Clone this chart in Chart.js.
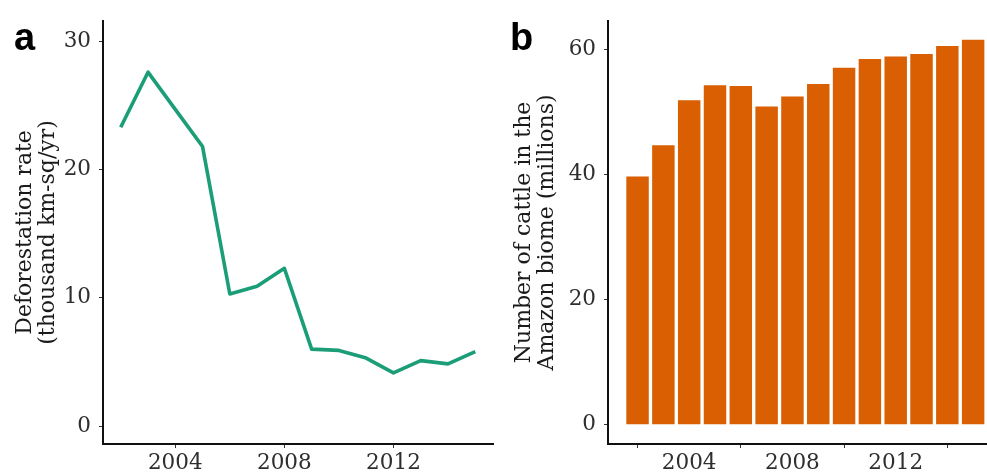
<!DOCTYPE html>
<html lang="en">
<head>
  <meta charset="UTF-8" />
  <title>Deforestation and cattle in the Amazon</title>
  <script src="https://cdn.jsdelivr.net/npm/chart.js"></script>
  <style>
    body {
      margin: 0;
      width: 987px;
      height: 475px;
      overflow: hidden;
      background: #fff;
      position: relative;
    }
    .panel {
      position: absolute;
      top: 0;
    }
    .tag {
      position: absolute;
      font-family: "Liberation Sans", Arial, sans-serif;
      font-weight: bold;
      font-size: 38px;
      line-height: 38px;
      color: #000;
    }
  </style>
</head>
<body>
  <div class="panel" style="left:0"><canvas id="chartA" width="495" height="475"></canvas></div>
  <div class="panel" style="left:495px"><canvas id="chartB" width="520" height="475"></canvas></div>
  <div class="tag" style="left:14px; top:18px">a</div>
  <div class="tag" style="left:510px; top:18px">b</div>

  <script>
    const years = [2002, 2003, 2004, 2005, 2006, 2007, 2008, 2009, 2010, 2011, 2012, 2013, 2014, 2015];
    const deforestation = [23.3, 27.6, 24.7, 21.8, 10.3, 10.9, 12.3, 6.0, 5.9, 5.3, 4.15, 5.1, 4.85, 5.8];
    const cattle = [39.7, 44.7, 51.9, 54.3, 54.2, 50.9, 52.5, 54.5, 57.1, 58.5, 58.9, 59.3, 60.6, 61.6];
    const yearTicks = [2004, 2008, 2012];
    const deforTicks = [0, 10, 20, 30];
    const cattleTicks = [0, 20, 40, 60];

    const serif = '"DejaVu Serif", serif';
    const tickFont = { family: serif, size: 21.5 };
    const tickColor = '#2e2e2e';

    function axisStyle(tickList, extra) {
      return Object.assign({
        type: 'linear',
        afterBuildTicks: s => { s.ticks = tickList.map(v => ({ value: v })); },
        grid: { display: true, drawOnChartArea: false, drawTicks: true, tickLength: 4, color: '#333', lineWidth: 1 },
        border: { display: true, color: '#111', width: 2 },
        ticks: { color: tickColor, font: tickFont, padding: 3, maxRotation: 0, autoSkip: false, callback: v => String(v) }
      }, extra);
    }

    function yTitle(lines, pad) {
      return {
        display: true,
        text: lines,
        color: '#1a1a1a',
        font: { family: serif, size: 22, lineHeight: 1.05 },
        padding: { top: pad, bottom: 0 }
      };
    }

    new Chart(document.getElementById('chartA'), {
      type: 'line',
      data: {
        datasets: [{
          data: years.map((yr, i) => ({ x: yr, y: deforestation[i] })),
          borderColor: '#1b9e77',
          borderWidth: 3.6,
          borderJoinStyle: 'round',
          pointRadius: 0,
          tension: 0,
          fill: false
        }]
      },
      options: {
        responsive: false,
        animation: false,
        layout: { padding: { left: 0, top: 15, right: 2, bottom: 0 } },
        plugins: { legend: { display: false }, tooltip: { enabled: false } },
        scales: {
          x: axisStyle(yearTicks, { min: 2001.35, max: 2015.65, afterFit: s => { s.height = 31; } }),
          y: axisStyle(deforTicks, {
            min: -1.4, max: 31.6,
            afterFit: s => { s.width = 103; },
            title: yTitle(['Deforestation rate', '(thousand km-sq/yr)'], 14),
            ticks: { color: tickColor, font: tickFont, padding: 8, callback: v => String(v) }
          })
        }
      }
    });

    new Chart(document.getElementById('chartB'), {
      type: 'bar',
      data: {
        datasets: [{
          data: years.map((yr, i) => ({ x: yr, y: cattle[i] })),
          backgroundColor: '#d95f02',
          borderWidth: 0,
          categoryPercentage: 1,
          barPercentage: 0.87
        }]
      },
      options: {
        responsive: false,
        animation: false,
        layout: { padding: { left: 0, top: 15, right: 12.3, bottom: 0 } },
        plugins: { legend: { display: false }, tooltip: { enabled: false } },
        scales: {
          x: axisStyle(yearTicks, { min: 2000.855, max: 2016.145, offset: false, afterFit: s => { s.height = 31; } }),
          y: axisStyle(cattleTicks, {
            min: -3.08, max: 64.6,
            beginAtZero: false,
            afterFit: s => { s.width = 113; },
            title: yTitle(['Number of cattle in the', 'Amazon biome (millions)'], 18),
            ticks: { color: tickColor, font: tickFont, padding: 8, callback: v => String(v) }
          })
        }
      }
    });
  </script>
</body>
</html>
